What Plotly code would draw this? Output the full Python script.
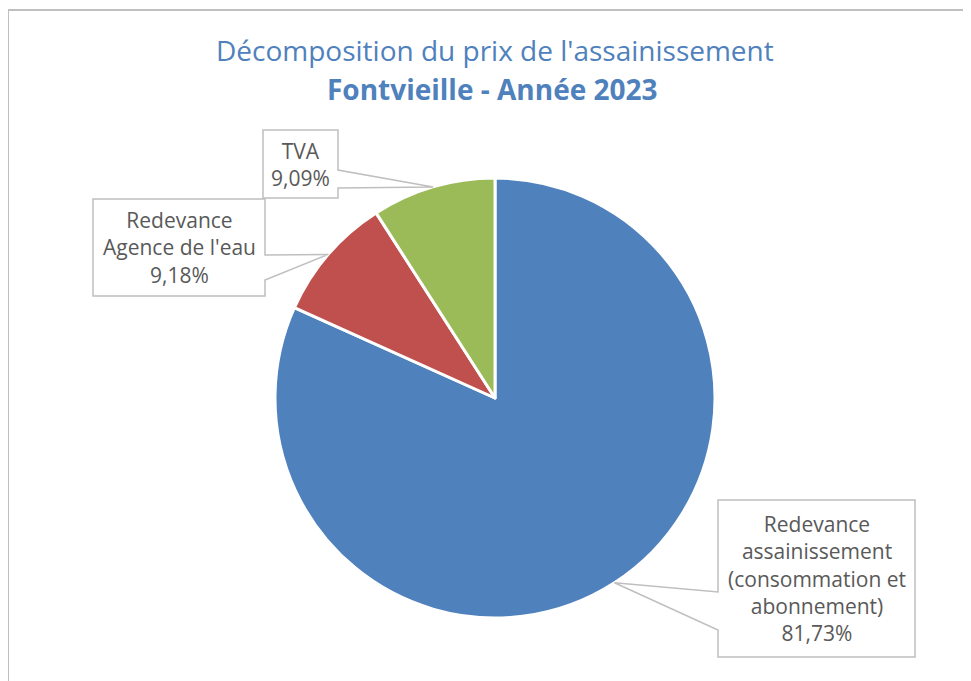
import math
import plotly.graph_objects as go

# data
labels = ["Redevance assainissement (consommation et abonnement)",
          "Redevance Agence de l'eau", "TVA"]
label_text = ["Redevance<br>assainissement<br>(consommation et<br>abonnement)<br>81,73%",
              "Redevance<br>Agence de l'eau<br>9,18%",
              "TVA<br>9,09%"]
values = [81.73, 9.18, 9.09]
colors = ["#4F81BD", "#C0504D", "#9BBB59"]

W, H = 971, 681
OFF = 8  # page body margin
FW, FH = W - OFF, H - OFF
cx, cy, r = 495, 398, 220

def px(x):
    return (x - OFF) / FW

def py(y):
    return 1 - (y - OFF) / FH

fig = go.Figure(go.Pie(
    labels=labels, values=values, sort=False, direction="clockwise", rotation=0,
    marker=dict(colors=colors, line=dict(color="white", width=3)),
    textinfo="none", hoverinfo="label+percent", showlegend=False,
    domain=dict(x=[px(cx - r), px(cx + r)], y=[py(cy + r), py(cy - r)]),
))

# callout boxes (left, top, right, bottom) and where the pointer leaves the box
boxes = [(718, 500, 915, 657), (93, 199, 265, 296), (263, 130, 338, 198)]
pointer_base = [("left", 592, 630), ("right", 255, 280), ("right", 170, 188)]

# anchor on the arc at mid-angle of each slice
total = sum(values)
start = 0
anchors = []
for v in values:
    mid = (start + v / 2) / total * 2 * math.pi
    anchors.append((cx + r * math.sin(mid), cy - r * math.cos(mid)))
    start += v

def P(x, y):
    return f"{px(x):.5f} {py(y):.5f}"

shapes = [dict(type="rect", xref="paper", yref="paper", x0=px(8), x1=px(990),
               y0=py(10), y1=py(700), line=dict(color="#BFBFBF", width=2))]
annotations = []
for (l, t, rr, b), (side, y1, y2), (ax, ay), txt in zip(boxes, pointer_base, anchors, label_text):
    if side == "right":
        path = (f"M{P(l, t)} L{P(rr, t)} L{P(rr, y1)} L{P(ax, ay)} L{P(rr, y2)} "
                f"L{P(rr, b)} L{P(l, b)} Z")
    else:
        path = (f"M{P(l, t)} L{P(rr, t)} L{P(rr, b)} L{P(l, b)} L{P(l, y2)} "
                f"L{P(ax, ay)} L{P(l, y1)} Z")
    shapes.append(dict(type="path", xref="paper", yref="paper", path=path,
                       fillcolor="white", line=dict(color="#BFBFBF", width=1.5),
                       layer="above"))
    annotations.append(dict(xref="paper", yref="paper", x=px((l + rr) / 2), y=py((t + b) / 2),
                            text=txt, showarrow=False, align="center",
                            xanchor="center", yanchor="middle",
                            font=dict(family="Open Sans", size=21, color="#595959")))

annotations.append(dict(xref="paper", yref="paper", x=px(495), y=py(50), showarrow=False,
                        text="Décomposition du prix de l'assainissement",
                        font=dict(family="Open Sans", size=28, color="#4F81BD"),
                        xanchor="center", yanchor="middle"))
annotations.append(dict(xref="paper", yref="paper", x=px(492), y=py(89), showarrow=False,
                        text="<b>Fontvieille - Année 2023</b>",
                        font=dict(family="Open Sans", size=28, color="#4F81BD"),
                        xanchor="center", yanchor="middle"))

fig.update_layout(width=FW, height=FH, margin=dict(l=0, r=0, t=0, b=0),
                  paper_bgcolor="white", plot_bgcolor="white",
                  shapes=shapes, annotations=annotations)
fig.write_html("out.html")
